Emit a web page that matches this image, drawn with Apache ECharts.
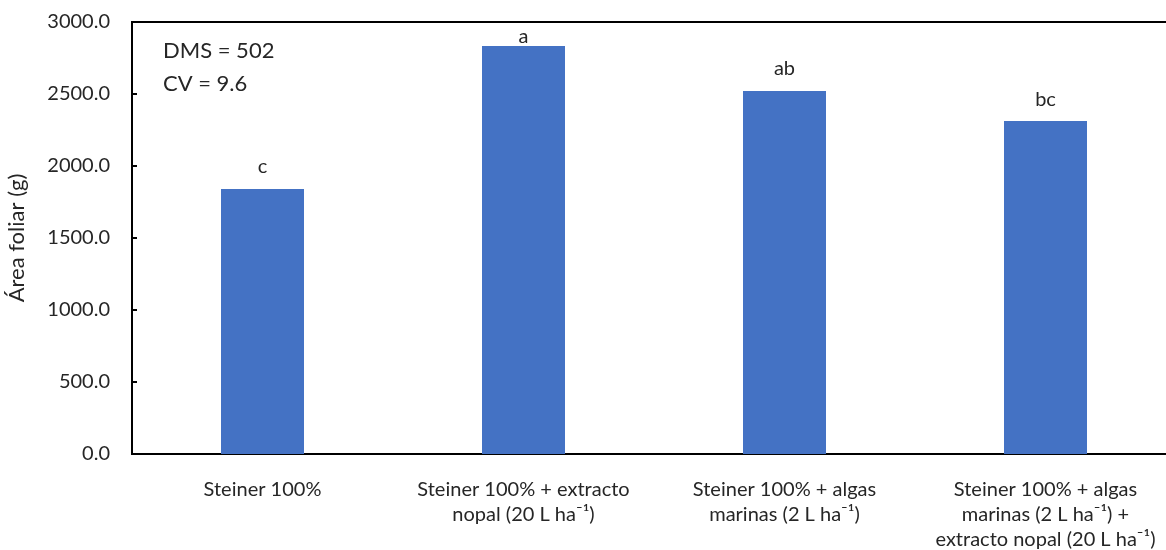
<!DOCTYPE html>
<html><head><meta charset="utf-8">
<script src="https://cdn.jsdelivr.net/npm/echarts@6/dist/echarts.min.js"></script>
<style>html,body{margin:0;padding:0;background:#fff}#c{width:1166px;height:550px}</style>
</head><body><div id="c"></div>
<script>
const categories = [
  "Steiner 100%",
  "Steiner 100% + extracto\nnopal (20 L ha⁻¹)",
  "Steiner 100% + algas\nmarinas (2 L ha⁻¹)",
  "Steiner 100% + algas\nmarinas (2 L ha⁻¹) +\nextracto nopal (20 L ha⁻¹)"
];
const values = [1840, 2833, 2521, 2312];
const letters = ["c", "a", "ab", "bc"];
const yTicks = { min: 0, max: 3000, interval: 500 };
const notes = ["DMS = 502", "CV = 9.6"];

const font = "Lato, 'Open Sans', 'Liberation Sans', sans-serif";
const txt = '#262626';
const chart = echarts.init(document.getElementById('c'), null, {renderer:'canvas'});
// labels that would leave the plot area are pushed down to stay inside it (as in the original)
const seriesData = values.map(v => ({
  value: v,
  label: { distance: (yTicks.max - v) < 250 ? 0 : 12 }
}));
chart.setOption({
  animation: false,
  backgroundColor: '#fff',
  grid: { left: 132, top: 22, bottom: 96, right: -10, outerBoundsMode: 'none', containLabel: false,
    show: true, borderColor: '#000', borderWidth: 2, backgroundColor: 'transparent' },
  xAxis: {
    type: 'category', data: categories,
    axisLine: { lineStyle: { color: '#000', width: 2 } },
    axisTick: { inside: true, length: 6, lineStyle: { color: '#000', width: 2 } },
    axisLabel: { color: txt, fontFamily: font, fontSize: 20, lineHeight: 25, margin: 23, interval: 0 }
  },
  yAxis: {
    type: 'value', min: yTicks.min, max: yTicks.max, interval: yTicks.interval,
    name: 'Área foliar (g)', nameLocation: 'middle', nameGap: 104,
    nameTextStyle: { color: txt, fontFamily: font, fontSize: 22 },
    axisLine: { show: true, lineStyle: { color: '#000', width: 2 } },
    axisTick: { show: true, inside: true, length: 5, lineStyle: { color: '#000', width: 2 } },
    splitLine: { show: false },
    axisLabel: { color: txt, fontFamily: font, fontSize: 20, margin: 22, formatter: v => v.toFixed(1) }
  },
  series: [{
    type: 'bar', data: seriesData, barWidth: 83,
    itemStyle: { color: '#4472C4' },
    label: { show: true, position: 'top', distance: 12, color: txt, fontFamily: font, fontSize: 20,
      formatter: p => letters[p.dataIndex] }
  }],
  graphic: notes.map((t, i) => ({
    type: 'text', left: 163, top: 40 + i * 33,
    style: { text: t, fill: txt, font: '22px ' + font }
  }))
});
</script></body></html>
